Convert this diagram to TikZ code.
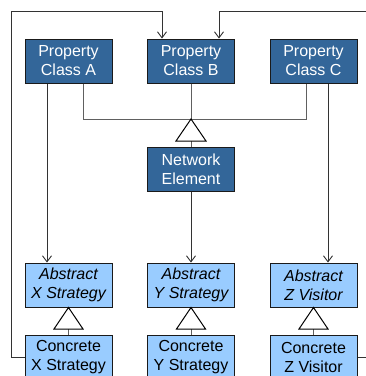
\documentclass[tikz,border=0pt]{standalone}
\usepackage{fontspec}
\setmainfont{Liberation Sans}
\usetikzlibrary{arrows.meta}
\definecolor{dkblue}{HTML}{336699}
\definecolor{ltblue}{HTML}{99CCFF}
\definecolor{linegray}{HTML}{606060}
\definecolor{border}{HTML}{1A1A1A}
\begin{document}
\begin{tikzpicture}[x=1pt,y=-1pt,
  box/.style={draw=border,line width=1pt,minimum width=87pt,minimum height=44pt,inner sep=0pt,align=center,font=\fontsize{16}{19}\selectfont},
  darkbox/.style={box,fill=dkblue,text=white},
  lightbox/.style={box,fill=ltblue,text=black},
  conn/.style={draw=linegray,line width=1pt},
  arr/.style={conn,-{Straight Barb[length=6pt,width=9pt,line width=0.9pt]},color=black!80},
  tri/.style={draw=black,line width=1pt,fill=white}]
\useasboundingbox (0,0) rectangle (366,376);
\fill[white] (0,0) rectangle (366,376);
% nodes
\node[darkbox] (pa) at (68.5,61) {Property\\Class A};
\node[darkbox] (pb) at (191,61) {Property\\Class B};
\node[darkbox] (pc) at (313.5,61) {Property\\Class C};
\node[darkbox] (ne) at (191,169.5) {Network\\Element};
\node[lightbox] (ax) at (68.5,285) {\itshape Abstract\\\itshape X Strategy};
\node[lightbox] (ay) at (191,285) {\itshape Abstract\\\itshape Y Strategy};
\node[lightbox] (az) at (313.5,285) {\itshape Abstract\\\itshape Z Visitor};
\node[lightbox] (cx) at (68.5,357) {Concrete\\X Strategy};
\node[lightbox] (cy) at (191,357) {Concrete\\Y Strategy};
\node[lightbox] (cz) at (313.5,357) {Concrete\\Z Visitor};
% generalisation Property -> Network Element
\coordinate (apex) at (191,119);
\draw[conn] (pa.south -| 83,0) -- (83,119) -- (306,119) -- (pc.south -| 306,0);
\draw[conn] (pb.south) -- (apex);
\draw[conn] (191,141) -- (ne.north);
\draw[tri] (apex) -- (176,141) -- (206,141) -- cycle;
% associations
\draw[arr] (pa.south -| 47,0) -- (ax.north -| 47,0);
\draw[arr] (pc.south -| 328,0) -- (az.north -| 328,0);
\draw[arr] (ne.south) -- (ay.north);
% generalisations concrete -> abstract
\foreach \a/\c/\x in {ax/cx/68.5,ay/cy/191,az/cz/313.5}{
  \draw[conn] (\x,329) -- (\c.north);
  \draw[tri] (\a.south) -- (\x-14.5,329) -- (\x+14.5,329) -- cycle;
}
% feedback loops
\coordinate (lt) at (11,11);
\coordinate (rt) at (370,11);
\draw[arr] (cx.west |- 0,357) -- (11,357) -- (lt) -- (162,11) -- (pb.north -| 162,0);
\draw[arr] (cz.east |- 0,357) -- (370,357) -- (rt) -- (219,11) -- (pb.north -| 219,0);
\end{tikzpicture}
\end{document}
